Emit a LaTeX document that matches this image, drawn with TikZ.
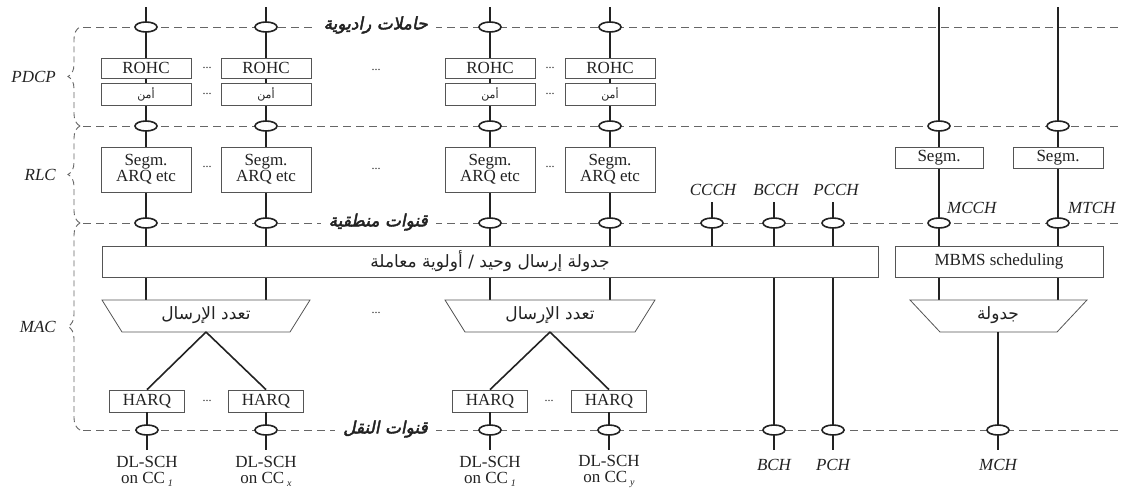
\documentclass[tikz,border=0pt]{standalone}
\usepackage{fontspec}
\setmainfont{Liberation Serif}
\newfontfamily\arabicfont[Script=Arabic]{DejaVu Sans}
\newfontfamily\arabicbi[Script=Arabic,FakeBold=2.5,FakeSlant=0.2]{DejaVu Sans}
\TeXXeTstate=1
\usetikzlibrary{shapes.geometric,decorations.pathreplacing}
\definecolor{ink}{HTML}{222222}
\definecolor{frame}{HTML}{555555}
\definecolor{dash}{HTML}{666666}
\begin{document}
\begin{tikzpicture}[x=1pt,y=-1pt,
  blk/.style={draw=frame, line width=0.8pt, fill=white, inner sep=0pt, minimum width=90pt, minimum height=20pt, font=\fontsize{17}{17}\selectfont, text=ink},
  ch/.style={draw=ink, line width=1.6pt},
  oval/.style={ellipse, draw=ink, line width=1.6pt, fill=white, minimum width=22pt, minimum height=10pt, inner sep=0pt},
  dl/.style={draw=dash, line width=0.9pt, dash pattern=on 8pt off 5pt},
  brc/.style={draw=dash, line width=0.9pt, dash pattern=on 6pt off 4pt, decorate, decoration={brace, amplitude=12pt}},
  lyr/.style={font=\fontsize{17}{17}\selectfont\itshape, text=ink, anchor=east, inner sep=0pt},
  chl/.style={font=\fontsize{17}{17}\selectfont\itshape, text=ink, inner sep=0pt},
  ttl/.style={font=\fontsize{17}{17}\arabicbi, text=ink, fill=white, anchor=east, inner xsep=8pt, inner ysep=2pt},
  dots/.style={font=\fontsize{12}{12}\selectfont, text=ink, inner sep=0pt},
  arb/.style={font=\fontsize{17}{17}\arabicfont, text=ink},
  bot/.style={font=\fontsize{17}{16}\selectfont, text=ink, align=center, inner sep=0pt}
]
\useasboundingbox (0,0) rectangle (1126,496);

% ---------- dashed layer lines ----------
\coordinate (d1l) at (83,27);  \coordinate (d1r) at (1118,27);
\coordinate (d2l) at (83,126); \coordinate (d2r) at (1118,126);
\coordinate (d3l) at (83,223); \coordinate (d3r) at (1118,223);
\coordinate (d4l) at (83,430); \coordinate (d4r) at (1118,430);
\draw[dl] (d1l) -- (d1r);
\draw[dl] (d2l) -- (d2r);
\draw[dl] (d3l) -- (d3r);
\draw[dl] (d4l) -- (d4r);

% ---------- braces ----------
\coordinate (b1) at (80,27);
\coordinate (b2) at (80,126);
\coordinate (b3) at (80,223);
\coordinate (b4) at (80,430);
\draw[brc] (b2) -- (b1);
\draw[brc] (b3) -- (b2);
\draw[brc] (b4) -- (b3);
\node[lyr] (pdcp) at (56,77) {PDCP};
\node[lyr] (rlc) at (56,175) {RLC};
\node[lyr] (mac) at (56,327) {MAC};

% ---------- channel lines ----------
\foreach \n/\x in {1/146,2/266,3/490,4/610}{
  \coordinate (top\n) at (\x,7);
  \coordinate (mt\n) at (\x,300);
}
\draw[ch] (top1) -- (mt1);
\draw[ch] (top2) -- (mt2);
\draw[ch] (top3) -- (mt3);
\draw[ch] (top4) -- (mt4);
\coordinate (topm1) at (939,7);  \coordinate (mtm1) at (939,300);
\coordinate (topm2) at (1058,7); \coordinate (mtm2) at (1058,300);
\draw[ch] (topm1) -- (mtm1);
\draw[ch] (topm2) -- (mtm2);
\coordinate (ccT) at (712,202); \coordinate (ccB) at (712,246);
\coordinate (bcT) at (774,202); \coordinate (bcB) at (774,450);
\coordinate (pcT) at (833,202); \coordinate (pcB) at (833,450);
\draw[ch] (ccT) -- (ccB);
\draw[ch] (bcT) -- (bcB);
\draw[ch] (pcT) -- (pcB);

% ---------- PDCP boxes ----------
\node[blk] (rohc1) at (146,68) {ROHC};
\node[blk] (rohc2) at (266,68) {ROHC};
\node[blk] (rohc3) at (490,68) {ROHC};
\node[blk] (rohc4) at (610,68) {ROHC};
\foreach \n/\x in {1/146,2/266,3/490,4/610}{
  \node[blk, minimum height=22pt, font=\fontsize{11}{11}\arabicfont] (sec\n) at (\x,94) {\beginR أمن\endR};
}
\node[dots] (dr1) at (207,68) {...};
\node[dots] (dr2) at (550,68) {...};
\node[dots] (dr3) at (376,70) {...};
\node[dots] (ds1) at (207,94) {...};
\node[dots] (ds2) at (550,94) {...};

% ---------- RLC boxes ----------
\foreach \n/\x in {1/146,2/266,3/490,4/610}{
  \node[blk, minimum height=45pt, align=center, font=\fontsize{17}{16}\selectfont] (seg\n) at (\x,169.5) {Segm.\\ARQ etc};
}
\node[blk, minimum width=88pt, minimum height=21pt] (segm1) at (939,157.5) {Segm.};
\node[blk, minimum width=90pt, minimum height=21pt] (segm2) at (1058,157.5) {Segm.};
\node[dots] (dg1) at (207,167) {...};
\node[dots] (dg2) at (550,167) {...};
\node[dots] (dg3) at (376,169) {...};

% ---------- MAC ----------
\node[blk, minimum width=776pt, minimum height=31pt, font=\fontsize{17}{17}\arabicfont] (sched) at (490,261.5) {\beginR جدولة إرسال وحيد / أولوية معاملة\endR};
\node[blk, minimum width=208pt, minimum height=31pt] (mbms) at (999,261.5) {MBMS scheduling};

\draw[draw=frame, line width=0.8pt, fill=white] (102,300) -- (310,300) -- (290,332) -- (122,332) -- cycle;
\draw[draw=frame, line width=0.8pt, fill=white] (445,300) -- (655,300) -- (635,332) -- (465,332) -- cycle;
\draw[draw=frame, line width=0.8pt, fill=white] (910,300) -- (1087,300) -- (1057,332) -- (940,332) -- cycle;
\node[arb] (mux1) at (206,315) {\beginR تعدد الإرسال\endR};
\node[arb] (mux2) at (550,315) {\beginR تعدد الإرسال\endR};
\node[arb] (mux3) at (998,315) {\beginR جدولة\endR};
\node[dots] (dm) at (376,313) {...};
\coordinate (m1b) at (206,332);
\coordinate (m2b) at (550,332);
\coordinate (m3b) at (998,332);

\node[blk, minimum width=75pt, minimum height=22pt] (h1) at (147,401) {HARQ};
\node[blk, minimum width=75pt, minimum height=22pt] (h2) at (266,401) {HARQ};
\node[blk, minimum width=75pt, minimum height=22pt] (h3) at (490,401) {HARQ};
\node[blk, minimum width=75pt, minimum height=22pt] (h4) at (609,401) {HARQ};
\node[dots] (dh1) at (207,401) {...};
\node[dots] (dh2) at (549,401) {...};
\draw[ch] (m1b) -- (h1.north);
\draw[ch] (m1b) -- (h2.north);
\draw[ch] (m2b) -- (h3.north);
\draw[ch] (m2b) -- (h4.north);
\foreach \n in {1,2,3,4}{
  \coordinate (hb\n) at ([yshift=-38pt]h\n.south);
}
\draw[ch] (h1.south) -- (hb1);
\draw[ch] (h2.south) -- (hb2);
\draw[ch] (h3.south) -- (hb3);
\draw[ch] (h4.south) -- (hb4);
\coordinate (mchB) at (998,450);
\draw[ch] (m3b) -- (mchB);

% ---------- ovals ----------
\foreach \x in {146,266,490,610}{
  \node[oval] at (\x,27) {};
  \node[oval] at (\x,126) {};
  \node[oval] at (\x,223) {};
}
\foreach \x in {147,266,490,609}{ \node[oval] at (\x,430) {}; }
\foreach \x in {939,1058}{
  \node[oval] at (\x,126) {};
  \node[oval] at (\x,223) {};
}
\foreach \x in {712,774,833}{ \node[oval] at (\x,223) {}; }
\foreach \x in {774,833,998}{ \node[oval] at (\x,430) {}; }

% ---------- titles ----------
\node[ttl] (rb) at (436,25) {\beginR حاملات راديوية\endR};
\node[ttl] (lc) at (436,222) {\beginR قنوات منطقية\endR};
\node[ttl] (tc) at (436,429) {\beginR قنوات النقل\endR};

% ---------- channel labels ----------
\node[chl] (ccch) at (713,190) {CCCH};
\node[chl] (bcch) at (776,190) {BCCH};
\node[chl] (pcch) at (836,190) {PCCH};
\node[chl, anchor=west] (mcch) at (947,208) {MCCH};
\node[chl, anchor=west] (mtch) at (1068,208) {MTCH};
\node[chl] (bch) at (774,465) {BCH};
\node[chl] (pch) at (833,465) {PCH};
\node[chl] (mch) at (998,465) {MCH};

\node[bot] (dl1) at (147,471) {DL-SCH\\on CC\,{\fontsize{10}{10}\selectfont\itshape\raisebox{-3pt}{1}}};
\node[bot] (dl2) at (266,471) {DL-SCH\\on CC\,{\fontsize{10}{10}\selectfont\itshape\raisebox{-3pt}{x}}};
\node[bot] (dl3) at (490,471) {DL-SCH\\on CC\,{\fontsize{10}{10}\selectfont\itshape\raisebox{-3pt}{1}}};
\node[bot] (dl4) at (609,471) {DL-SCH\\on CC\,{\fontsize{10}{10}\selectfont\itshape\raisebox{-3pt}{y}}};
\end{tikzpicture}
\end{document}
